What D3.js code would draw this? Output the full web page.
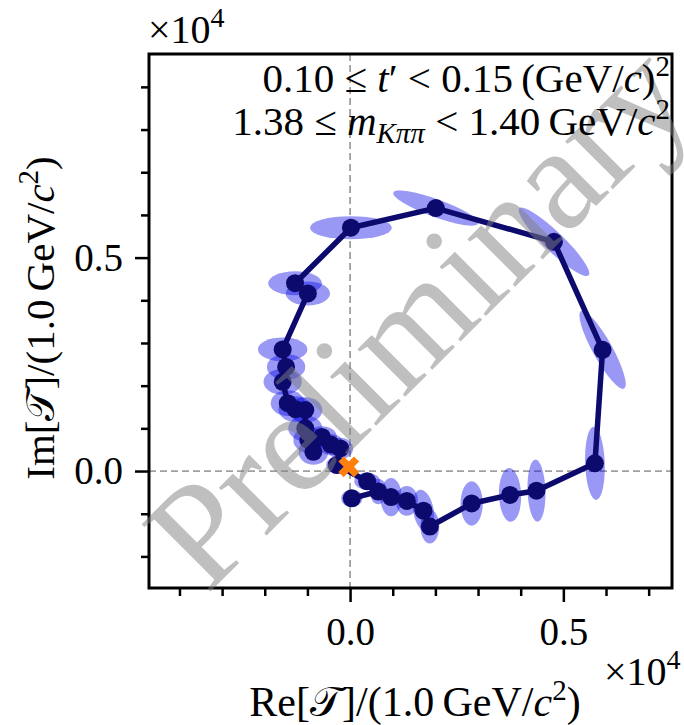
<!DOCTYPE html>
<html>
<head>
<meta charset="utf-8">
<script src="https://cdn.jsdelivr.net/npm/d3@7"></script>
<style>
    body { margin: 0; background: #fff; }
    text { font-family: "Liberation Serif", "Times New Roman", serif; fill: #000; }
</style>
</head>
<body>
<svg width="684" height="725"></svg>
<script>
// production amplitude per mass bin, in order along the path
const re = [40, 660, 960, 1330, 1720, 1870, 2850, 3750, 4370, 5740, 5920, 4780, 2010, 20,
    -1290, -990, -1580, -1500, -1580, -1460, -1280, -1050, -1050, -980, -860, -660, -450, -230, -310, 400];
const im = [-640, -480, -610, -700, -930, -1300, -760, -560, -460, 180, 2840, 5370, 6160, 5700,
    4400, 4160, 2850, 2440, 2090, 1590, 1450, 1430, 1000, 730, 450, 800, 620, 530, 140, -240];
// uncertainty ellipses: semi axes and orientation (deg from Re axis)
const errMajor = [250, 300, 450, 350, 500, 400, 520, 630, 730, 860, 1040, 1130, 1060, 960,
    630, 520, 580, 450, 450, 400, 400, 400, 400, 350, 350, 350, 300, 300, 250, 300];
const errMinor = [200, 200, 250, 260, 240, 220, 260, 260, 210, 230, 230, 230, 210, 270,
    280, 280, 280, 300, 300, 300, 300, 300, 300, 300, 300, 250, 250, 250, 200, 200];
const errAngle = [0, 90, 90, 90, 100, 90, 90, 92, 92, 92, -61, -44, -20, 0,
    0, 0, 0, 0, 0, 0, 0, 0, 0, 0, 0, 0, 0, 0, 0, 0];
// reference (anchor) point
const refRe = [-30];
const refIm = [100];

const majorTicks = [0, 5000];
const minorTicks = [-4000, -3000, -2000, -1000, 1000, 2000, 3000, 4000, 6000, 7000];
const minorTicksY = [-2000, -1000, 1000, 2000, 3000, 4000, 6000, 7000, 8000, 9000];

var svg = d3.select("svg");
const mLeft = 149, mRight = 672, mTop = 54, mBottom = 588;
const navy = "#0d0a6e";

var x = d3.scaleLinear().domain([-4714, 7547]).range([mLeft, mRight]);
var y = d3.scaleLinear().domain([-2740, 9770]).range([mBottom, mTop]);
const k = x(1) - x(0);

var fmt = function (d) { return (d / 1e4).toFixed(1); };

// axes (major and minor ticks, outside)
function styleAxis(g) {
    g.select(".domain").remove();
    g.selectAll("line").attr("stroke", "#000").attr("stroke-width", 2.5);
    g.selectAll("text").style("font-size", "39px").attr("fill", "#000");
}
svg.append("g").attr("transform", "translate(0," + mBottom + ")")
    .call(d3.axisBottom(x).tickValues(minorTicks).tickSize(8).tickFormat(""))
    .call(styleAxis);
svg.append("g").attr("transform", "translate(0," + mBottom + ")")
    .call(d3.axisBottom(x).tickValues(majorTicks).tickSize(14).tickPadding(15).tickFormat(fmt))
    .call(styleAxis);
svg.append("g").attr("transform", "translate(" + mLeft + ",0)")
    .call(d3.axisLeft(y).tickValues(minorTicksY).tickSize(8).tickFormat(""))
    .call(styleAxis);
svg.append("g").attr("transform", "translate(" + mLeft + ",0)")
    .call(d3.axisLeft(y).tickValues(majorTicks).tickSize(14).tickPadding(12).tickFormat(fmt))
    .call(styleAxis);

// zero lines
svg.append("line")
    .attr("x1", x(0)).attr("x2", x(0)).attr("y1", mTop).attr("y2", mBottom)
    .attr("stroke", "#a0a0a0").attr("stroke-width", 1.8).attr("stroke-dasharray", "7,4");
svg.append("line")
    .attr("x1", mLeft).attr("x2", mRight).attr("y1", y(0)).attr("y2", y(0))
    .attr("stroke", "#a0a0a0").attr("stroke-width", 1.8).attr("stroke-dasharray", "7,4");

// error ellipses
svg.append("g")
    .selectAll("ellipse")
    .data(re)
    .enter()
    .append("ellipse")
    .attr("cx", 0).attr("cy", 0)
    .attr("rx", function (d, i) { return errMajor[i] * k; })
    .attr("ry", function (d, i) { return errMinor[i] * k; })
    .attr("transform", function (d, i) {
        return "translate(" + x(re[i]) + "," + y(im[i]) + ") rotate(" + (-errAngle[i]) + ")";
    })
    .attr("fill", "rgb(0,0,230)")
    .attr("fill-opacity", 0.4);

// path through bins
var line = d3.line()
    .x(function (d, i) { return x(re[i]); })
    .y(function (d, i) { return y(im[i]); });
svg.append("path")
    .datum(re)
    .attr("d", line)
    .attr("fill", "none")
    .attr("stroke", navy)
    .attr("stroke-width", 5.5)
    .attr("stroke-linejoin", "round");

svg.append("g")
    .selectAll("circle")
    .data(re)
    .enter()
    .append("circle")
    .attr("cx", function (d, i) { return x(re[i]); })
    .attr("cy", function (d, i) { return y(im[i]); })
    .attr("r", 9)
    .attr("fill", navy);

// anchor marker
svg.append("g")
    .selectAll("path")
    .data(refRe)
    .enter()
    .append("path")
    .attr("d", d3.symbol().type(d3.symbolCross).size(270))
    .attr("transform", function (d, i) {
        return "translate(" + x(refRe[i]) + "," + y(refIm[i]) + ") rotate(45)";
    })
    .attr("fill", "#ff7f0e");

// frame
svg.append("rect")
    .attr("x", mLeft).attr("y", mTop)
    .attr("width", mRight - mLeft).attr("height", mBottom - mTop)
    .attr("fill", "none").attr("stroke", "#000").attr("stroke-width", 3);

// watermark
svg.append("text")
    .attr("transform", "translate(452,350) rotate(-45)")
    .attr("text-anchor", "middle")
    .style("font-size", "147px")
    .style("fill", "#808080")
    .style("fill-opacity", 0.5)
    .text("Preliminary");

// bin annotation
var t1 = svg.append("text").attr("x", 670).attr("y", 92).attr("text-anchor", "end").style("font-size", "41px");
t1.append("tspan").text("0.10 \u2264 ");
t1.append("tspan").style("font-style", "italic").text("t");
t1.append("tspan").text("\u2032 < 0.15\u2009(GeV/");
t1.append("tspan").style("font-style", "italic").text("c");
t1.append("tspan").text(")");
t1.append("tspan").attr("dy", -16).style("font-size", "29px").text("2");

var t2 = svg.append("text").attr("x", 670).attr("y", 135).attr("text-anchor", "end").style("font-size", "41px");
t2.append("tspan").text("1.38 \u2264 ");
t2.append("tspan").style("font-style", "italic").text("m");
t2.append("tspan").attr("dy", 8).style("font-size", "29px").style("font-style", "italic").text("K\u03c0\u03c0");
t2.append("tspan").attr("dy", -8).text(" < 1.40\u2009GeV/");
t2.append("tspan").style("font-style", "italic").text("c");
t2.append("tspan").attr("dy", -16).style("font-size", "29px").text("2");

// axis labels
var xl = svg.append("text").attr("x", 415).attr("y", 716).attr("text-anchor", "middle").style("font-size", "42px");
xl.append("tspan").text("Re[");
xl.append("tspan").text("\ud835\udcaf");
xl.append("tspan").text("]/(1.0\u2009GeV/");
xl.append("tspan").style("font-style", "italic").text("c");
xl.append("tspan").attr("dy", -16).style("font-size", "29px").text("2");
xl.append("tspan").attr("dy", 16).text(")");

var yl = svg.append("text").attr("transform", "translate(54,318) rotate(-90)")
    .attr("text-anchor", "middle").style("font-size", "41px");
yl.append("tspan").text("Im[");
yl.append("tspan").text("\ud835\udcaf");
yl.append("tspan").text("]/(1.0\u2009GeV/");
yl.append("tspan").style("font-style", "italic").text("c");
yl.append("tspan").attr("dy", -16).style("font-size", "29px").text("2");
yl.append("tspan").attr("dy", 16).text(")");

// offset labels
var o1 = svg.append("text").attr("x", 148).attr("y", 43).style("font-size", "40px");
o1.append("tspan").text("\u00d710");
o1.append("tspan").attr("dy", -16).style("font-size", "28px").text("4");

var o2 = svg.append("text").attr("x", 604).attr("y", 685).style("font-size", "40px");
o2.append("tspan").text("\u00d710");
o2.append("tspan").attr("dy", -16).style("font-size", "28px").text("4");
</script>
</body>
</html>
